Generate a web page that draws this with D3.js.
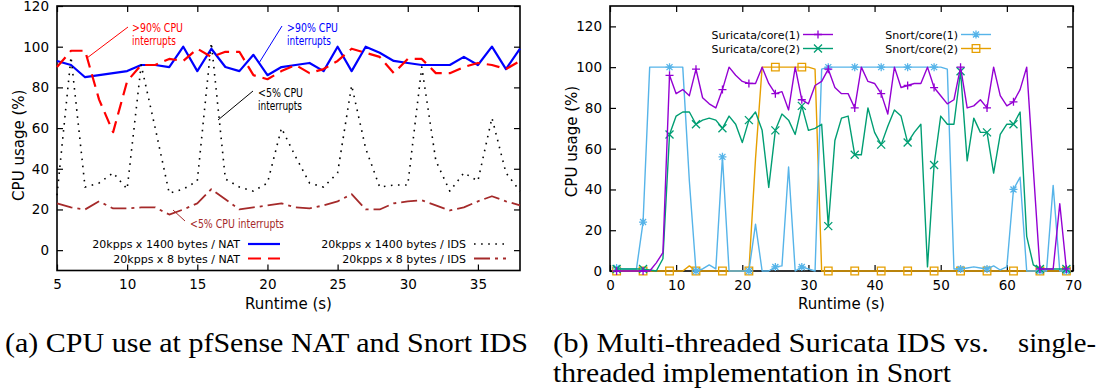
<!DOCTYPE html>
<html>
<head>
<meta charset="utf-8">
<script src="https://cdn.jsdelivr.net/npm/d3@7"></script>
<style>
  body { margin: 0; background: #fff; }
  svg text { font-family: "DejaVu Sans", sans-serif; }
</style>
</head>
<body>
<svg id="fig" width="1101" height="389"></svg>
<script>
// ---- (a) pfSense NAT / Snort IDS, one sample per second
const runtimeA = [5, 6, 7, 8, 9, 10, 11, 12, 13, 14, 15, 16, 17, 18, 19, 20, 21, 22, 23, 24, 25, 26, 27, 28, 29, 30, 31, 32, 33, 34, 35, 36, 37, 38];
const nat1400 = [93, 91, 85, 86, 87, 88, 91, 91, 90, 100, 88, 99, 90, 88, 96, 86, 90, 91, 92, 88, 100, 88, 100, 97, 93, 92, 91, 91, 91, 95, 91, 100, 89, 99];
const nat8 = [90, 98, 98, 74, 58, 83, 91, 91, 94, 93, 99, 95, 97.5, 97.5, 86, 84, 88, 91, 87, 89, 93, 99, 97, 95, 87, 94, 94, 87, 87, 90, 92, 91, 89, 93];
const ids1400 = [27, 95, 31, 33, 38, 30, 91, 60, 28, 30, 34, 102, 35, 31, 29, 33, 60, 46, 33, 31, 38, 81, 50, 31, 32, 32, 90, 44, 29, 38, 34, 65, 38, 29];
const ids8 = [23, 21, 20, 24, 20.5, 20.5, 21, 21, 17.5, 20, 23, 30, 25, 20, 21, 22, 23, 21, 20.5, 22, 24, 27.5, 20, 20, 23, 24, 24.5, 22, 19.5, 21, 24, 26.5, 24, 22];
const ticksXA = [5, 10, 15, 20, 25, 30, 35];
const ticksYA = [0, 20, 40, 60, 80, 100, 120];

// ---- (b) Suricata vs Snort per core
const runtimeB = [1, 2, 3, 4, 5, 6, 7, 8, 9, 10, 11, 12, 13, 14, 15, 16, 17, 18, 19, 20, 21, 22, 23, 24, 25, 26, 27, 28, 29, 30, 31, 32, 33, 34, 35, 36, 37, 38, 39, 40, 41, 42, 43, 44, 45, 46, 47, 48, 49, 50, 51, 52, 53, 54, 55, 56, 57, 58, 59, 60, 61, 62, 63, 64, 65, 66, 67, 68, 69];
const suricata1 = [0, 0, 0, 0, 0, 0, 4, 9, 96, 87, 89, 86, 99, 85, 82, 80, 89, 100, 96, 93, 92, 92, 100, 92, 87, 88, 79, 100, 84, 82, 91, 93, 99, 90, 87, 87, 80, 100, 93, 92, 87, 77, 100, 90, 91, 92, 92, 100, 90, 86, 82, 84, 100, 80, 81, 84, 80, 100, 86, 81, 83, 89, 100, 50, 1, 1, 1, 33, 1];
const suricata2 = [1, 1, 1, 1, 1, 0.5, 0, 6, 67, 76, 78, 78, 72, 74, 75, 74, 70, 76, 72, 63, 74, 78, 69, 41, 69, 77, 74, 67, 81, 69, 70, 72, 22, 64, 75, 76, 57, 57, 80, 68, 62, 71, 79, 76, 63, 68, 72, 2, 52, 76, 72, 72, 98, 54, 75, 68, 68, 48, 67, 72, 72, 78, 17, 3, 1, 1, 1, 1, 1];
const snort1 = [1.5, 1, 1, 1, 24, 100, 100, 100, 100, 100, 100, 44, 0, 1, 3, 1, 56, 0, 0, 0, 0, 23, 0, 0, 2, 2.5, 51, 0, 2, 1, 0, 99, 100, 100, 100, 100, 100, 100, 100, 100, 100, 100, 100, 100, 100, 100, 100, 100, 100, 100, 99, 1, 1, 1.5, 2, 1.5, 1, 2.5, 0.5, 2, 40, 46, 0, 0, 0, 0, 42, 0, 0];
const snort2 = [0, 0, 0, 0, 0, 0, 0, 0, 0, 0, 0, 2.5, 0, 0, 0, 0, 0, 0, 0, 0, 0, 55, 100, 100, 100, 100, 100, 100, 100, 100, 99, 0, 0, 0, 0, 0, 0, 0, 0, 0, 0, 0, 0, 0, 0, 0, 0, 0, 0, 0, 0, 0, 0, 0, 0, 0, 0, 0, 0, 0, 0, 0, 0, 0, 0, 0, 0, 0, 0];
const ticksXB = [0, 10, 20, 30, 40, 50, 60, 70];
const ticksYB = [0, 20, 40, 60, 80, 100, 120];

const svg = d3.select('#fig');
svg.append('rect').attr('width', 1101).attr('height', 389).attr('fill', '#fff');

const xA = d3.scaleLinear().domain([5, 38]).range([57, 520]);
const yA = d3.scaleLinear().domain([-10, 120]).range([270.5, 6]);
const xB = d3.scaleLinear().domain([0, 70]).range([610, 1073]);
const yB = d3.scaleLinear().domain([0, 130]).range([271, 6]);

// box with inward ticks on all four sides, labels left/bottom
function drawFrame(x, y, xt, yt, labelShift) {
  const [x0, x1] = x.range();
  const [y0, y1] = y.range();
  const tidy = (g) => {
    g.select('.domain').remove();
    g.selectAll('text').attr('font-family', '"DejaVu Sans", sans-serif').attr('font-size', 13.5).attr('fill', '#000');
    g.selectAll('line').attr('stroke', '#000').attr('stroke-width', 1.2);
  };
  svg.append('g').attr('transform', 'translate(0,' + y0 + ')')
    .call(d3.axisBottom(x).tickValues(xt).tickSizeInner(-6).tickSizeOuter(0).tickPadding(9)).call(tidy);
  svg.append('g').attr('transform', 'translate(0,' + y1 + ')')
    .call(d3.axisTop(x).tickValues(xt).tickSizeInner(-6).tickSizeOuter(0).tickFormat('')).call(tidy);
  svg.append('g').attr('transform', 'translate(' + x0 + ',0)')
    .call(d3.axisLeft(y).tickValues(yt).tickSizeInner(-6).tickSizeOuter(0).tickPadding(8)).call(tidy);
  svg.append('g').attr('transform', 'translate(' + x1 + ',0)')
    .call(d3.axisRight(y).tickValues(yt).tickSizeInner(-6).tickSizeOuter(0).tickFormat('')).call(tidy);
  svg.append('rect')
    .attr('x', x0).attr('y', y1).attr('width', x1 - x0).attr('height', y0 - y1)
    .attr('fill', 'none').attr('stroke', '#000').attr('stroke-width', 1.6);
  svg.append('text').attr('x', (x0 + x1) / 2).attr('y', 309).attr('text-anchor', 'middle')
    .attr('font-size', 15).text('Runtime (s)');
  svg.append('text').attr('transform', 'translate(' + (x0 - 33) + ',' + ((y0 + y1) / 2 + labelShift) + ') rotate(-90)')
    .attr('text-anchor', 'middle').attr('font-size', 15).text('CPU usage (%)');
}

function drawLine(x, y, xs, ys, color, width, dash) {
  const line = d3.line().x((d) => x(d[0])).y((d) => y(d[1]));
  svg.append('path')
    .datum(xs.map((v, i) => [v, ys[i]]))
    .attr('d', line)
    .attr('fill', 'none')
    .attr('stroke', color)
    .attr('stroke-width', width)
    .attr('stroke-dasharray', dash || null)
    .attr('stroke-linejoin', 'round');
}

const symbolPath = {
  plus: (s) => `M${-s},0H${s}M0,${-s}V${s}`,
  cross: (s) => `M${-s},${-s}L${s},${s}M${-s},${s}L${s},${-s}`,
  star: (s) => `M${-s},0H${s}M0,${-s}V${s}M${-s * 0.75},${-s * 0.75}L${s * 0.75},${s * 0.75}M${-s * 0.75},${s * 0.75}L${s * 0.75},${-s * 0.75}`,
  square: (s) => `M${-s},${-s}H${s}V${s}H${-s}Z`
};

function drawMarkers(x, y, xs, ys, color, kind) {
  svg.append('g').selectAll('path')
    .data(xs.map((v, i) => [v, ys[i]]).filter((_d, i) => i % 4 === 0))
    .enter().append('path')
    .attr('transform', (d) => 'translate(' + x(d[0]) + ',' + y(d[1]) + ')')
    .attr('d', symbolPath[kind](kind === 'square' ? 3.8 : 4))
    .attr('fill', 'none')
    .attr('stroke', color)
    .attr('stroke-width', 1.3);
}

// ---------- panel (a)
drawFrame(xA, yA, ticksXA, ticksYA, 7);
const seriesA = [
  { name: '20kpps x 1400 bytes / NAT', ys: nat1400, color: '#0000ff', width: 2.2, dash: null },
  { name: '20kpps x 8 bytes / NAT', ys: nat8, color: '#ff0000', width: 2.2, dash: '13,7' },
  { name: '20kpps x 1400 bytes / IDS', ys: ids1400, color: '#000', width: 1.6, dash: '1.6,5.5' },
  { name: '20kpps x 8 bytes / IDS', ys: ids8, color: '#a52a2a', width: 1.8, dash: '16,5,3,5' }
];
seriesA.forEach((s) => drawLine(xA, yA, runtimeA, s.ys, s.color, s.width, s.dash));

// legend (a)
seriesA.forEach((s, i) => {
  const lx = i < 2 ? 240 : 466;
  const ly = 244 + (i % 2) * 14.5;
  svg.append('text').attr('x', lx).attr('y', ly + 4).attr('text-anchor', 'end').attr('font-size', 11).text(s.name);
  svg.append('line').attr('x1', lx + 8).attr('x2', lx + 40).attr('y1', ly).attr('y2', ly)
    .attr('stroke', s.color).attr('stroke-width', s.width).attr('stroke-dasharray', s.dash);
});

// annotations (a)
const notes = [
  { lines: ['>90% CPU', 'interrupts'], x: 132, y: 32, widths: [51, 44], color: '#ff0000', from: [128, 27], to: [87, 58] },
  { lines: ['>90% CPU', 'interrupts'], x: 287, y: 32, widths: [51, 44], color: '#0000ff', from: [282, 26], to: [259, 63] },
  { lines: ['<5% CPU', 'interrupts'], x: 258, y: 97, widths: [45, 44], color: '#000', from: [253, 91], to: [218, 120] },
  { lines: ['<5% CPU interrupts'], x: 190, y: 228, widths: [94], color: '#a52a2a', from: [185, 221], to: [173, 210] }
];
notes.forEach((n) => {
  n.lines.forEach((t, i) => {
    svg.append('text').attr('x', n.x).attr('y', n.y + i * 12.5).attr('font-size', 11.5)
      .attr('fill', n.color).attr('textLength', n.widths[i]).attr('lengthAdjust', 'spacingAndGlyphs').text(t);
  });
  svg.append('line').attr('x1', n.from[0]).attr('y1', n.from[1]).attr('x2', n.to[0]).attr('y2', n.to[1])
    .attr('stroke', n.color).attr('stroke-width', 1);
});

// ---------- panel (b)
drawFrame(xB, yB, ticksXB, ticksYB, 3);
const seriesB = [
  { name: 'Suricata/core(1)', ys: suricata1, color: '#9400d3', kind: 'plus' },
  { name: 'Suricata/core(2)', ys: suricata2, color: '#009e73', kind: 'cross' },
  { name: 'Snort/core(1)', ys: snort1, color: '#56b4e9', kind: 'star' },
  { name: 'Snort/core(2)', ys: snort2, color: '#e69f00', kind: 'square' }
];
[3, 2, 1, 0].forEach((k) => {
  const s = seriesB[k];
  drawLine(xB, yB, runtimeB, s.ys, s.color, 1.4, null);
  drawMarkers(xB, yB, runtimeB, s.ys, s.color, s.kind);
});

// legend (b)
seriesB.forEach((s, i) => {
  const lx = i < 2 ? 800 : 958;
  const ly = 34.5 + (i % 2) * 14;
  svg.append('text').attr('x', lx).attr('y', ly + 4).attr('text-anchor', 'end').attr('font-size', 11).text(s.name);
  svg.append('line').attr('x1', lx + 3).attr('x2', lx + 33).attr('y1', ly).attr('y2', ly)
    .attr('stroke', s.color).attr('stroke-width', 1.4);
  svg.append('path').attr('transform', 'translate(' + (lx + 18) + ',' + ly + ')')
    .attr('d', symbolPath[s.kind](s.kind === 'square' ? 3.8 : 4))
    .attr('fill', 'none').attr('stroke', s.color).attr('stroke-width', 1.3);
});

// ---------- captions (justified like the LaTeX subcaptions)
const captions = [
  { text: '(a) CPU use at pfSense NAT and Snort IDS', x: 5, y: 352, w: 523, anchor: 'start' },
  { text: '(b) Multi-threaded Suricata IDS vs.', x: 553, y: 352, w: 436, anchor: 'start' },
  { text: 'single-', x: 1096, y: 352, w: 78, anchor: 'end' },
  { text: 'threaded implementation in Snort', x: 553, y: 382, w: 398, anchor: 'start' }
];
svg.append('g').selectAll('text').data(captions).enter().append('text')
  .attr('x', (d) => d.x).attr('y', (d) => d.y)
  .attr('text-anchor', (d) => d.anchor)
  .attr('textLength', (d) => d.w).attr('lengthAdjust', 'spacingAndGlyphs')
  .style('font-family', '"Liberation Serif", "Times New Roman", serif')
  .style('font-size', '27px')
  .attr('fill', '#000')
  .text((d) => d.text);
</script>
</body>
</html>
